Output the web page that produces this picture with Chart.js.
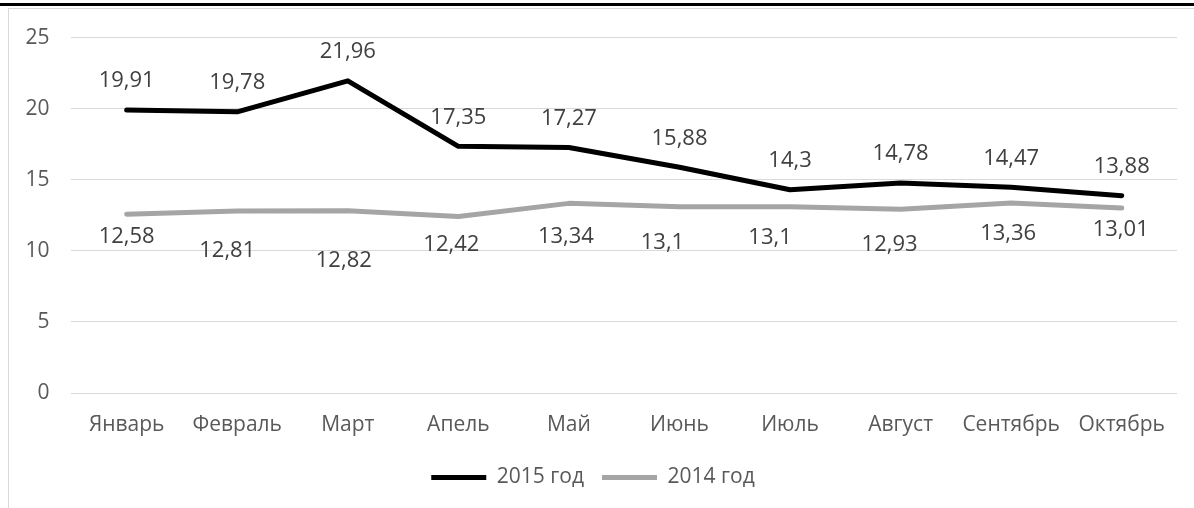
<!DOCTYPE html>
<html>
<head>
<meta charset="utf-8">
<script src="https://cdn.jsdelivr.net/npm/chart.js@4"></script>
<style>
    html, body { margin: 0; padding: 0; background: #fff; overflow: hidden; }
    .topbar { position: absolute; left: 0; top: 3px; width: 1194px; height: 3px; background: #000; }
    .frame { position: absolute; left: 8px; top: 8px; width: 1186px; height: 500px;
             border-left: 1px solid #d9d9d9; border-top: 1px solid #d9d9d9; }
    .frame canvas { display: block; position: absolute; left: 0; top: -6px; }
</style>
</head>
<body>
<div class="topbar"></div>
<div class="frame"><canvas id="priceChart" width="1185" height="505"></canvas></div>
<script>
// Data
const months = ['Январь', 'Февраль', 'Март', 'Апель', 'Май', 'Июнь', 'Июль', 'Август', 'Сентябрь', 'Октябрь'];
const values2015 = [19.91, 19.78, 21.96, 17.35, 17.27, 15.88, 14.3, 14.78, 14.47, 13.88];
const values2014 = [12.58, 12.81, 12.82, 12.42, 13.34, 13.1, 13.1, 12.93, 13.36, 13.01];
const yTicks = [0, 5, 10, 15, 20, 25];

// Label placement (manual, as in the original)
const labelDy2015 = -29;
const labelDy2014 = [23, 40, 50, 28, 33, 36, 31, 36, 31, 22];
const labelDx2014 = [0, -10, -4, -7, -3, -17, -20, -11, -3, -1];

const FONT = '"Open Sans", "Noto Sans", sans-serif';

// Draw value labels (comma decimals)
const valueLabels = {
    id: 'valueLabels',
    afterDatasetsDraw(chart) {
        const ctx = chart.ctx;
        ctx.save();
        ctx.font = '22px ' + FONT;
        ctx.fillStyle = '#404040';
        ctx.textAlign = 'center';
        ctx.textBaseline = 'middle';
        chart.data.datasets.forEach((ds, i) => {
            const meta = chart.getDatasetMeta(i);
            meta.data.forEach((pt, j) => {
                const txt = String(ds.data[j]).replace('.', ',');
                let dx = 0, dy = labelDy2015;
                if (i === 1) {
                    dx = labelDx2014[j];
                    dy = labelDy2014[j];
                }
                ctx.fillText(txt, pt.x + dx, pt.y + dy);
            });
        });
        ctx.restore();
    }
};

const ctx = document.getElementById('priceChart');
new Chart(ctx, {
    type: 'line',
    data: {
        labels: months,
        datasets: [{
            label: '2015 год',
            data: values2015,
            borderColor: '#000000',
            backgroundColor: '#000000',
            borderWidth: 5,
            borderCapStyle: 'round',
            borderJoinStyle: 'round',
            pointRadius: 0,
            tension: 0
        }, {
            label: '2014 год',
            data: values2014,
            borderColor: '#a5a5a5',
            backgroundColor: '#a5a5a5',
            borderWidth: 5,
            borderCapStyle: 'round',
            borderJoinStyle: 'round',
            pointRadius: 0,
            tension: 0
        }]
    },
    options: {
        responsive: false,
        animation: false,
        layout: {
            padding: { top: 12, right: 17, left: 0, bottom: 10 }
        },
        plugins: {
            tooltip: { enabled: false },
            legend: {
                position: 'bottom',
                labels: {
                    usePointStyle: true,
                    pointStyle: 'line',
                    pointStyleWidth: 55,
                    color: '#595959',
                    font: { family: FONT, size: 21 },
                    padding: 18
                }
            }
        },
        scales: {
            x: {
                offset: true,
                grid: { display: false },
                border: { display: false },
                ticks: {
                    color: '#595959',
                    font: { family: FONT, size: 21 },
                    padding: 11,
                    maxRotation: 0,
                    autoSkip: false
                },
                afterFit(scale) { scale.height = 56; }
            },
            y: {
                min: 0,
                max: 25,
                afterBuildTicks(scale) { scale.ticks = yTicks.map(v => ({ value: v })); },
                grid: { color: '#d9d9d9', lineWidth: 1, drawTicks: false },
                border: { display: false },
                ticks: {
                    color: '#595959',
                    font: { family: FONT, size: 21 },
                    padding: 22
                },
                afterFit(scale) { scale.width = 62.4; }
            }
        }
    },
    plugins: [valueLabels]
});
</script>
</body>
</html>
